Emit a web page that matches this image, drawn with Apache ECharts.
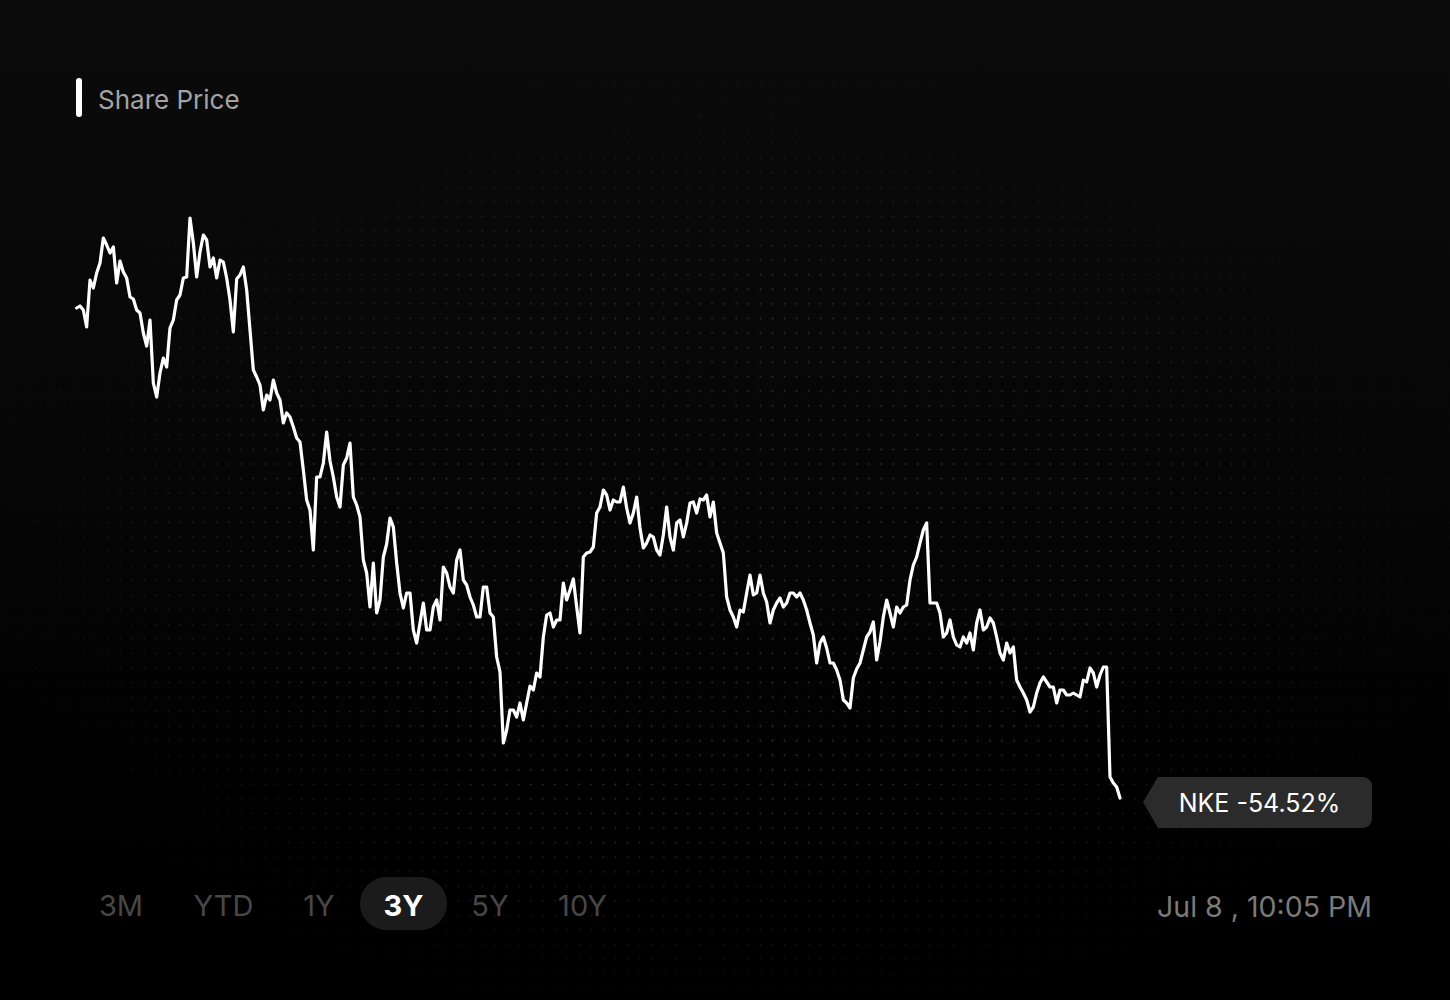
<!DOCTYPE html>
<html>
<head>
<meta charset="utf-8">
<title>Share Price</title>
<script src="https://cdn.jsdelivr.net/npm/echarts@6/dist/echarts.min.js"></script>
<style>
  html, body { margin: 0; padding: 0; width: 1450px; height: 1000px; overflow: hidden;
    background: linear-gradient(#0b0b0b 0%, #060606 45%, #000 85%, #000 100%); }
  #dots { position: absolute; left: 0; top: 0; width: 1450px; height: 1000px;
    background-image: radial-gradient(circle at center, #2a2a2a 0, #2a2a2a 0.8px, rgba(0,0,0,0) 1.3px);
    background-size: 12.09px 14.57px; background-position: 5.5px 5.3px;
    -webkit-mask-image: radial-gradient(ellipse 54% 50% at 50% 54%, #000 50%, rgba(0,0,0,0) 100%);
    mask-image: radial-gradient(ellipse 54% 50% at 50% 54%, #000 50%, rgba(0,0,0,0) 100%); }
  #chart { position: absolute; left: 0; top: 0; width: 1450px; height: 1000px; }
</style>
</head>
<body>
<div id="dots"></div>
<div id="chart"></div>
<script>
// ---- data (NKE share price, 3Y, evenly sampled) ----
const title = 'Share Price';
const ticker = 'NKE';
const changeText = '-54.52%';
const timestamp = 'Jul 8 , 10:05 PM';
const ranges = ['3M', 'YTD', '1Y', '3Y', '5Y', '10Y'];
const activeRange = '3Y';

const priceYear1 = [
  89.9, 90.1, 89.7, 88.0, 92.7, 91.9, 93.4, 94.4, 96.9, 96.2,
  95.4, 96.0, 92.4, 94.6, 93.5, 92.9, 91.0, 90.8, 89.7, 89.4,
  87.4, 86.1, 88.7, 82.4, 81.0, 83.4, 84.9, 84.0, 87.9, 88.7,
  90.7, 91.2, 92.9, 93.0, 98.9, 96.4, 93.0, 95.5, 97.2, 96.7,
  94.0, 94.9, 92.9, 94.7, 94.5, 92.9, 90.7, 87.5, 92.8, 93.2,
  94.0, 91.7, 87.7, 83.7, 83.0, 82.2, 79.7, 81.2, 80.7, 82.7,
  81.4, 80.7, 78.4, 79.4, 79.0, 78.0, 76.9, 76.5, 73.7, 70.7,
  69.7, 65.7, 73.0, 73.0, 74.4, 77.5, 74.6, 73.0, 71.0, 70.0,
  74.2, 74.9, 76.4, 71.0, 70.2, 69.0, 64.7, 63.4, 60.0, 64.4,
  59.4, 60.7, 65.0, 66.3, 68.9, 68.0, 64.4, 61.4, 59.9, 61.4
];
const priceYear2 = [
  61.4, 57.7, 56.4, 58.4, 60.4, 57.7, 57.7, 60.0, 60.7, 58.7,
  64.0, 63.4, 62.0, 61.4, 64.7, 65.7, 62.7, 62.2, 61.0, 60.2,
  59.0, 59.0, 62.0, 62.0, 59.4, 59.0, 55.0, 53.5, 46.4, 47.7,
  49.7, 49.7, 49.0, 50.4, 48.7, 50.4, 52.1, 51.7, 53.4, 53.0,
  57.0, 59.2, 59.4, 58.0, 58.7, 58.7, 62.4, 60.7, 61.7, 62.8,
  60.0, 57.4, 65.0, 65.4, 65.5, 66.0, 69.4, 70.0, 71.7, 71.2,
  69.7, 70.7, 70.5, 70.5, 72.0, 69.9, 68.4, 69.4, 71.0, 67.9,
  65.9, 66.4, 67.2, 67.0, 65.7, 65.2, 67.2, 70.0, 67.0, 65.7,
  68.4, 68.7, 67.0, 68.4, 70.4, 70.5, 69.4, 70.8, 70.7, 71.2,
  69.0, 70.5, 67.4, 66.4, 65.4, 61.0, 59.7, 59.0, 58.0, 59.7
];
const priceYear3 = [
  59.5, 61.4, 63.2, 61.2, 61.4, 63.2, 61.4, 60.5, 58.4, 59.7,
  60.4, 60.9, 60.0, 60.4, 61.4, 61.4, 61.0, 61.4, 60.7, 59.7,
  58.4, 57.2, 54.4, 56.4, 57.0, 55.9, 54.4, 54.4, 53.7, 52.7,
  50.7, 50.4, 49.9, 52.9, 53.8, 54.4, 55.7, 57.0, 57.5, 58.5,
  54.7, 56.5, 59.0, 60.7, 59.4, 58.0, 60.0, 59.4, 60.0, 60.2,
  62.7, 64.2, 65.0, 66.4, 67.7, 68.4, 60.4, 60.4, 60.4, 59.4,
  57.0, 57.4, 58.7, 57.0, 56.2, 56.0, 57.0, 56.4, 57.4, 55.7,
  58.4, 59.7, 57.7, 58.0, 58.9, 58.4, 57.0, 55.4, 54.7, 56.4,
  55.4, 56.0, 52.7, 52.0, 51.4, 50.7, 49.5, 50.0, 51.4, 52.4,
  53.0, 52.5, 52.0, 52.0, 50.4, 51.7, 51.7, 51.2, 51.2, 51.4,
  51.2, 51.0, 52.7, 52.5, 53.9, 53.4, 52.0, 53.2, 54.0, 54.0,
  43.0, 42.4, 42.0, 40.9
];

const prices = priceYear1.concat(priceYear2, priceYear3);
const seriesData = prices.map((v, i) => [i, v]);

const FONT = 'Inter, "Noto Sans", Roboto, sans-serif';

// range buttons layout
const btnCenters = [121, 223.5, 319, 403.5, 490, 582.5];
const buttonGraphics = [];
ranges.forEach((r, i) => {
  const active = r === activeRange;
  if (active) {
    buttonGraphics.push({
      type: 'rect', silent: true,
      shape: { x: btnCenters[i] - 43.5, y: 877, width: 87, height: 53, r: 26.5 },
      style: { fill: '#1b1b1b' }
    });
  }
  buttonGraphics.push({
    type: 'text', silent: true,
    x: btnCenters[i], y: 905,
    style: {
      text: r, fill: active ? '#ffffff' : '#474747',
      font: (active ? 'bold ' : '') + '29px ' + FONT,
      textAlign: 'center', textVerticalAlign: 'middle'
    }
  });
});

const chart = echarts.init(document.getElementById('chart'), null, { renderer: 'svg' });
chart.setOption({
  animation: false,
  backgroundColor: 'transparent',
  grid: { left: 76.67, right: 330, top: 107, bottom: 93 },
  xAxis: { type: 'value', min: 0, max: prices.length - 1, show: false },
  yAxis: { type: 'value', min: 30, max: 110, show: false },
  series: [{
    type: 'line',
    data: seriesData,
    showSymbol: false,
    symbol: 'none',
    smooth: false,
    lineStyle: { color: '#ffffff', width: 3.2, join: 'round', cap: 'round' }
  }],
  graphic: [
    { type: 'rect', silent: true, shape: { x: 76, y: 78, width: 6, height: 39, r: 3 }, style: { fill: '#ffffff' } },
    { type: 'text', silent: true, x: 98, y: 99,
      style: { text: title, fill: '#a3a3a3', font: '26px ' + FONT, textVerticalAlign: 'middle' } },
    { type: 'polygon', silent: true,
      shape: { points: [[1143, 802], [1158, 777], [1170, 777], [1170, 828], [1158, 828]] },
      style: { fill: '#2b2b2b' } },
    { type: 'rect', silent: true,
      shape: { x: 1157, y: 777, width: 215, height: 51, r: [3, 9, 9, 3] },
      style: { fill: '#2b2b2b' } },
    { type: 'text', silent: true, x: 1259.5, y: 803,
      style: { text: ticker + ' ' + changeText, fill: '#ffffff', font: '25px ' + FONT,
        textAlign: 'center', textVerticalAlign: 'middle' } },
    { type: 'text', silent: true, x: 1372, y: 906,
      style: { text: timestamp, fill: '#7a7a7a', font: '28.5px ' + FONT,
        textAlign: 'right', textVerticalAlign: 'middle' } }
  ].concat(buttonGraphics)
});
</script>
</body>
</html>
